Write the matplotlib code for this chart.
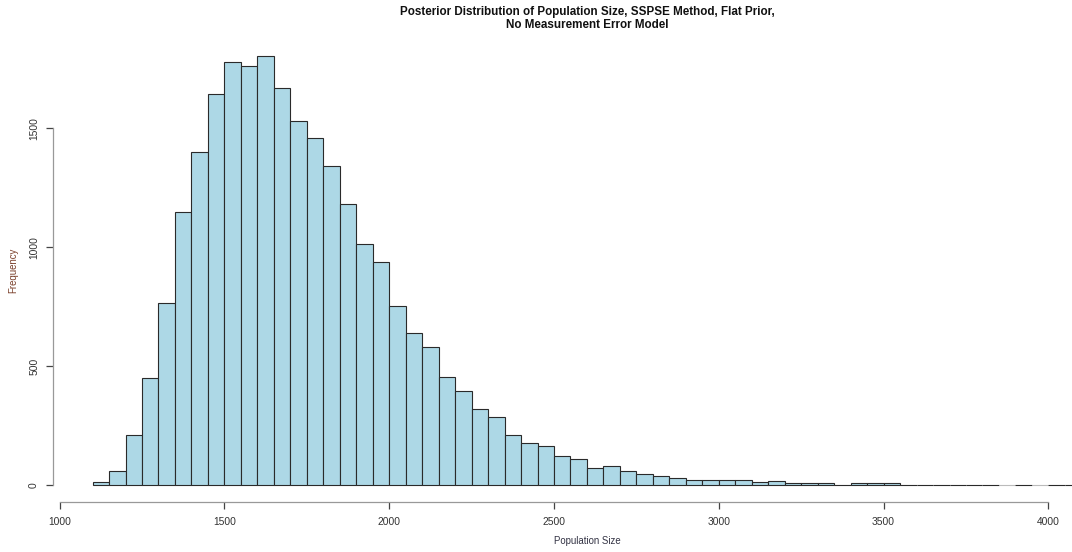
import matplotlib
matplotlib.use("Agg")
import matplotlib.pyplot as plt
import numpy as np

# Histogram bins (width 50, starting at 1100) and counts
bin_start = 1100
bin_width = 50
counts = [14, 59, 211, 450, 765, 1146, 1398, 1642, 1779, 1760,
          1802, 1670, 1531, 1458, 1342, 1181, 1014, 938, 753, 638,
          579, 455, 396, 317, 286, 208, 176, 165, 123, 107,
          69, 78, 59, 45, 37, 29, 22, 21, 21, 21,
          13, 17, 8, 7, 6, 1, 7, 7, 7, 1,
          1, 1, 1, 1, 1, 0, 1, 0, 1, 1]
x_ticks = [1000, 1500, 2000, 2500, 3000, 3500, 4000]
y_ticks = [0, 500, 1000, 1500]
title = "Posterior Distribution of Population Size, SSPSE Method, Flat Prior,\nNo Measurement Error Model"
xlabel = "Population Size"
ylabel = "Frequency"

plt.rcParams['font.family'] = ['Liberation Sans', 'DejaVu Sans']

W, H = 1072, 552
fig = plt.figure(figsize=(W / 100, H / 100), dpi=100)
ax = fig.add_axes([53 / W, (H - 502) / H, (W - 53) / W, (502 - 39.3) / H])

edges = bin_start + bin_width * np.arange(len(counts))
edgecols = ['#2a2a2a' if c > 0 else '#bbbbbb' for c in counts]
ax.bar(edges, counts, width=bin_width, align='edge', color='#ADD8E6',
       edgecolor=edgecols, linewidth=0.8)

ax.set_xlim(980, 4071.6)
ax.set_ylim(-0.04 * max(counts), 1.04 * max(counts))

for s in ['top', 'right']:
    ax.spines[s].set_visible(False)
ax.spines['bottom'].set_bounds(x_ticks[0], x_ticks[-1])
ax.spines['left'].set_bounds(y_ticks[0], y_ticks[-1])
for s in ['bottom', 'left']:
    ax.spines[s].set_color('#999999')
    ax.spines[s].set_linewidth(0.9)

ax.set_xticks(x_ticks)
ax.set_yticks(y_ticks)
ax.tick_params(axis='both', direction='out', length=5, width=0.9,
               color='#444444', labelcolor='#333333', labelsize=7.4)
ax.tick_params(axis='x', pad=6)
ax.tick_params(axis='y', pad=5, labelrotation=90)
for lab in ax.get_yticklabels():
    lab.set_va('center')

fig.text(587 / W, 1 - 6 / H, title, ha='center', va='top', fontsize=8.4,
         fontweight='bold', color='#111111', linespacing=1.1)
fig.text(587 / W, 1 - 541 / H, xlabel, ha='center', va='center',
         fontsize=6.9, color='#333344')
fig.text(13 / W, 1 - 270 / H, ylabel, ha='center', va='center',
         fontsize=6.9, color='#7a3f2a', rotation=90)

fig.savefig('out.png', dpi=100)
